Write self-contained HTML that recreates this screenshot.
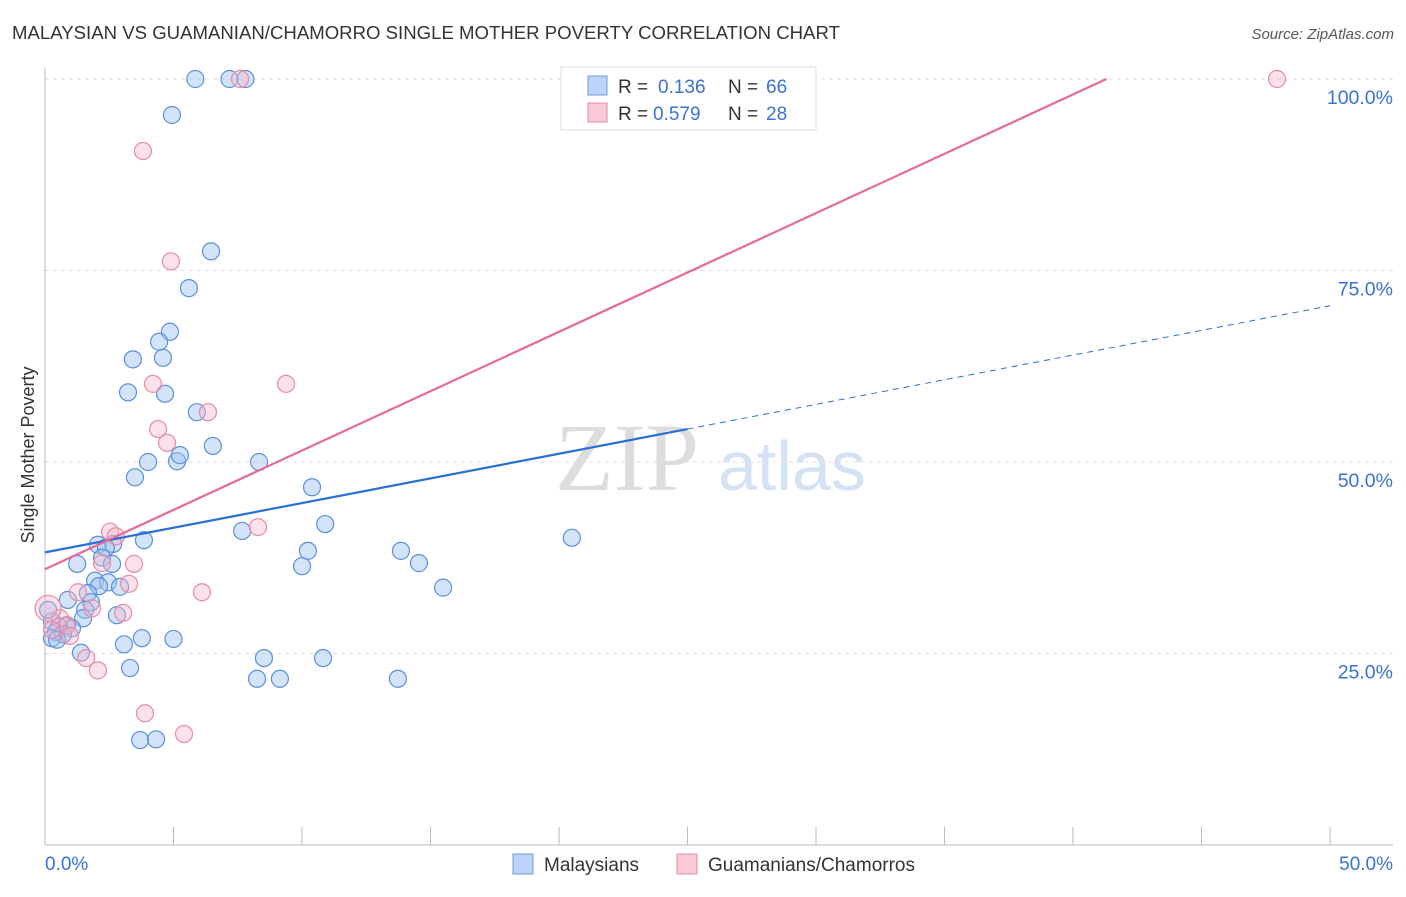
<!DOCTYPE html>
<html><head><meta charset="utf-8"><style>
body{margin:0;background:#fff;font-family:"Liberation Sans",sans-serif}
</style></head><body>
<svg width="1406" height="892" xmlns="http://www.w3.org/2000/svg">
<text x="12" y="39" font-size="18.6" fill="#333">MALAYSIAN VS GUAMANIAN/CHAMORRO SINGLE MOTHER POVERTY CORRELATION CHART</text>
<text x="1394" y="39" font-size="15" fill="#555" font-style="italic" text-anchor="end">Source: ZipAtlas.com</text>
<g id="grid"></g>
<text x="555" y="490" font-size="96" fill="#ddd" font-family="Liberation Serif">ZIP</text>
<text x="718" y="490" font-size="70" fill="#d4e2f4">atlas</text>
<g id="marks"></g>
<text x="34" y="455" font-size="18" fill="#333" transform="rotate(-90 34 455)" text-anchor="middle">Single Mother Poverty</text>
<g>
<rect x="561" y="67" width="255" height="63" fill="#fff" stroke="#ddd"/>
<rect x="588" y="76" width="19" height="19" fill="#bcd4f5" stroke="#6d9de0"/>
<rect x="588" y="103" width="19" height="19" fill="#f9c9d6" stroke="#e88aa6"/>
<text y="93" font-size="19" fill="#333"><tspan x="618">R =</tspan><tspan x="658" fill="#3a72d0">0.136</tspan><tspan x="728">N =</tspan><tspan x="766" fill="#3a72d0">66</tspan></text>
<text y="120" font-size="19" fill="#333"><tspan x="618">R =</tspan><tspan x="653" fill="#3a72d0">0.579</tspan><tspan x="728">N =</tspan><tspan x="766" fill="#3a72d0">28</tspan></text>
</g>
<g>
<rect x="513" y="854" width="20" height="20" fill="#bcd4f5" stroke="#6d9de0"/>
<text x="544" y="871" font-size="19" fill="#333">Malaysians</text>
<rect x="677" y="854" width="20" height="20" fill="#f9c9d6" stroke="#e88aa6"/>
<text x="708" y="871" font-size="19" fill="#333">Guamanians/Chamorros</text>
</g>
</svg>
<script>
const yTicks=[25,50,75,100];
const yTickLabels=["25.0%","50.0%","75.0%","100.0%"];
const xEndLabels=["0.0%","50.0%"];
const blueX=[5.85,7.18,7.8,4.94,6.46,5.6,4.86,4.44,3.42,4.59,3.23,4.67,5.91,6.53,4.01,5.14,5.25,8.33,3.5,10.39,10.9,7.67,3.85,20.5,2.06,2.65,2.37,10.23,13.85,2.22,10,14.55,2.61,1.25,1.95,2.45,2.92,2.1,15.49,1.67,0.89,1.79,1.56,2.8,1.48,0.27,0.82,1.05,0.54,0.43,0.7,0.27,0.47,3.77,5,3.07,1.4,8.52,10.82,3.31,8.25,9.14,13.73,3.7,4.32,0.12];
const blueY=[100,100,100,95.3,77.5,72.7,67,65.7,63.4,63.6,59.1,58.9,56.5,52.1,50,50.1,50.9,50,48,46.7,41.9,41,39.8,40.1,39.2,39.3,38.8,38.4,38.4,37.5,36.4,36.8,36.7,36.7,34.5,34.3,33.7,33.8,33.6,32.9,32,31.7,30.7,30,29.6,29.2,28.6,28.3,28.5,27.8,27.5,27,26.8,27,26.9,26.2,25.1,24.4,24.4,23.1,21.7,21.7,21.7,13.7,13.8,30.7];
const pinkX=[47.94,7.59,3.81,4.9,4.2,9.38,6.34,4.4,4.75,8.29,2.53,2.76,2.22,3.46,3.27,1.28,6.11,1.83,3.04,0.58,0.86,0.12,1.6,2.06,3.89,5.41,0.97,0.27];
const pinkY=[100,100,90.6,76.2,60.2,60.2,56.5,54.3,52.5,41.5,40.9,40.3,36.8,36.7,34.1,33,33,30.9,30.3,29.6,28.7,30.9,24.4,22.8,17.2,14.5,27.3,28.1];
const blueTrend=[0,38.2,25,54.3,50,70.4];
const pinkTrend=[0,36,41.3,100];
const NS="http://www.w3.org/2000/svg";
const X0=45,X1=1330,Y0=845,Y100=79;
const sx=v=>X0+(X1-X0)*v/50, sy=v=>Y0-(Y0-Y100)*v/100;
function mk(t,a,p){const e=document.createElementNS(NS,t);for(const k in a)e.setAttribute(k,a[k]);p.appendChild(e);return e;}
const g=document.getElementById('grid'),m=document.getElementById('marks');
yTicks.forEach((t,i)=>{
 const l=mk('line',{x1:X0,x2:1393,y1:sy(t),y2:sy(t),stroke:'#ddd','stroke-dasharray':'4,4'},g);
 
 
 const tx=mk('text',{x:1393,y:sy(t)+25,'font-size':19.5,fill:'#3a72d0','text-anchor':'end'},g);
 tx.textContent=yTickLabels[i];
 
 
});
const ax=mk('line',{x1:X0,x2:1393,y1:Y0,y2:Y0,stroke:'#bbb'},g);


const ay=mk('line',{x1:X0,x2:X0,y1:68,y2:Y0,stroke:'#bbb'},g);


for(let i=0;i<=10;i++){const t=mk('line',{x1:sx(i*5),x2:sx(i*5),y1:Y0,y2:Y0-18,stroke:'#bbb'},g);
 
 }
[[0,'start',45],[1,'end',1393]].forEach(([i,a,x])=>{const t=mk('text',{x:x,y:870,'font-size':19,fill:'#3a72d0','text-anchor':a},g);t.textContent=xEndLabels[i];
 
 });
blueX.forEach((v,i)=>{const c=mk('circle',{cx:sx(v),cy:sy(blueY[i]),r:8.5,fill:'rgba(160,196,240,0.45)',stroke:'#5a8fdc','stroke-width':1.2},m);
 
 });
pinkX.forEach((v,i)=>{const c=mk('circle',{cx:sx(v),cy:sy(pinkY[i]),r:i==21?13:8.5,fill:'rgba(246,180,200,0.4)',stroke:'#e88aa6','stroke-width':1.2},m);
 
 });
let l=mk('line',{x1:sx(blueTrend[0]),y1:sy(blueTrend[1]),x2:sx(blueTrend[2]),y2:sy(blueTrend[3]),stroke:'#2a6fd4','stroke-width':2.2},m);


l=mk('line',{x1:sx(blueTrend[2]),y1:sy(blueTrend[3]),x2:sx(blueTrend[4]),y2:sy(blueTrend[5]),stroke:'#2a6fd4','stroke-width':1,'stroke-dasharray':'6,5'},m);


l=mk('line',{x1:sx(pinkTrend[0]),y1:sy(pinkTrend[1]),x2:sx(pinkTrend[2]),y2:sy(pinkTrend[3]),stroke:'#e56a97','stroke-width':2.2},m);


</script>
</body></html>
